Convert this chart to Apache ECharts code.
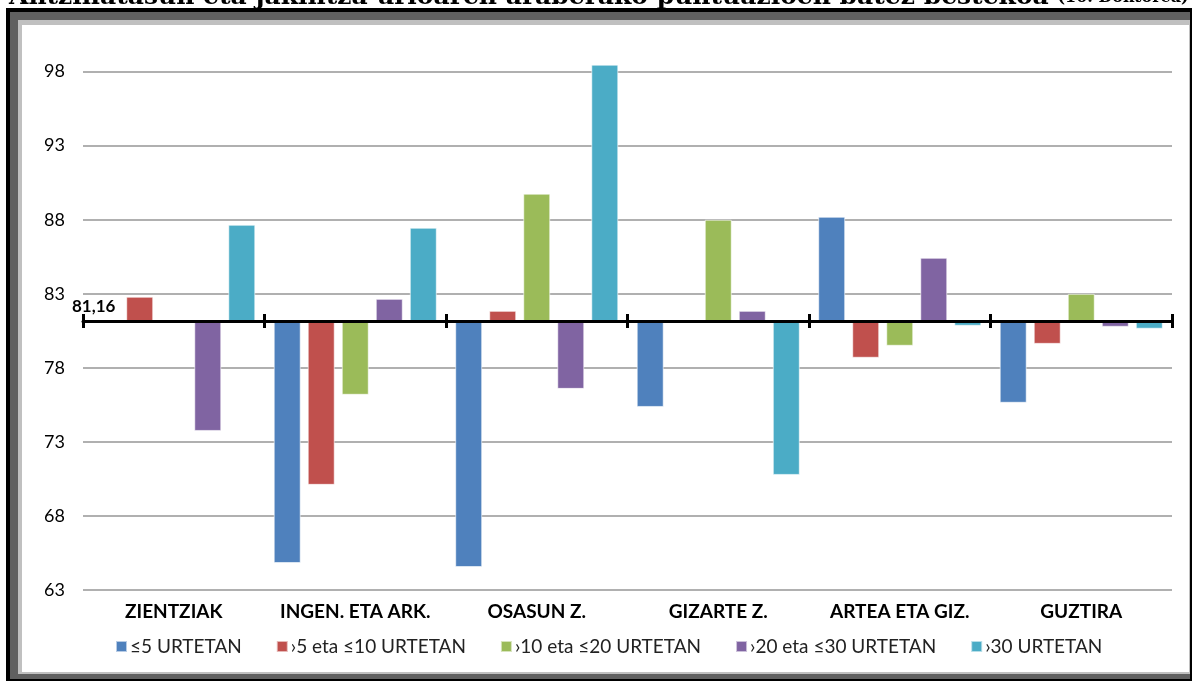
<!DOCTYPE html>
<html>
<head>
<meta charset="utf-8">
<script src="https://cdn.jsdelivr.net/npm/echarts@6/dist/echarts.min.js"></script>
<style>
  html, body { margin: 0; padding: 0; background: #fff; }
  #main { width: 1192px; height: 681px; }
</style>
</head>
<body>
<div id="main"></div>
<script>
// datuak
var kategoriak = ['ZIENTZIAK', 'INGEN. ETA ARK.', 'OSASUN Z.', 'GIZARTE Z.', 'ARTEA ETA GIZ.', 'GUZTIRA'];
var serieIzenak = ['≤5 URTETAN', '›5 eta ≤10 URTETAN', '›10 eta ≤20 URTETAN', '›20 eta ≤30 URTETAN', '›30 URTETAN'];
var urte5 = [81.12, 64.82, 64.55, 75.36, 88.2, 75.64];
var urte5_10 = [82.8, 70.1, 81.85, 81.25, 78.68, 79.62];
var urte10_20 = [81.2, 76.18, 89.76, 88.0, 79.49, 83.0];
var urte20_30 = [73.74, 82.66, 76.58, 81.85, 85.43, 80.77];
var urte30 = [87.66, 87.46, 98.47, 70.77, 80.84, 80.64];
var batezBestekoa = 81.16;
var yMin = 63, yMax = 100, yTartea = 5;

var koloreak = ['#4f81bd', '#c0504d', '#9bbb59', '#8064a2', '#4bacc6'];
var balioak = [urte5, urte5_10, urte10_20, urte20_30, urte30];

var myChart = echarts.init(document.getElementById('main'));

var series = [];
for (var i = 0; i < balioak.length; i++) {
    var s = {
        name: serieIzenak[i],
        type: 'bar',
        xAxisIndex: 0,
        yAxisIndex: 1,
        barWidth: 27,
        barGap: '26%',
        itemStyle: { color: koloreak[i], borderColor: 'rgba(255,255,255,0.6)', borderWidth: 1 },
        // barrak batez bestekotik abiatzen dira
        data: balioak[i].map(function (v) { return +(v - batezBestekoa).toFixed(3); })
    };
    if (i == 0) {
        s.markLine = {
            silent: true,
            symbol: 'none',
            lineStyle: { color: 'rgba(0,0,0,0)', width: 1 },
            label: {
                show: true,
                position: 'insideStartTop',
                formatter: String(batezBestekoa).replace('.', ','),
                color: '#000',
                fontWeight: 'bold',
                fontSize: 17,
                fontFamily: 'Lato',
                distance: [-11, 6]
            },
            data: [{ yAxis: 0 }]
        };
    }
    series.push(s);
}

option = {
    animation: false,
    title: {
        text: 'Antzinatasun eta jakintza-arloaren araberako puntuazioen batez bestekoa {s|(10. Doktorea)}',
        left: 4,
        top: -20,
        textStyle: {
            fontFamily: 'DejaVu Serif',
            fontWeight: 'bold',
            fontSize: 25,
            color: '#000',
            rich: { s: { fontFamily: 'DejaVu Serif', fontWeight: 'bold', fontSize: 16, color: '#000' } }
        }
    },
    graphic: [
        { type: 'rect', z: -10, shape: { x: 6, y: 8, width: 1190, height: 680 }, style: { fill: '#000' } },
        { type: 'rect', z: -9, shape: { x: 10, y: 12, width: 1180, height: 667 }, style: { fill: '#606060' } },
        { type: 'rect', z: -8, shape: { x: 18, y: 20, width: 1172, height: 654 }, style: { fill: '#c0c0c0' } },
        { type: 'rect', z: -7, shape: { x: 22, y: 25, width: 1167, height: 647 }, style: { fill: '#fff' } }
    ],
    legend: {
        data: serieIzenak,
        bottom: 20,
        left: 110,
        itemWidth: 11,
        itemHeight: 11,
        itemGap: 34,
        icon: 'rect',
        textStyle: { fontFamily: 'Lato', fontSize: 19, color: '#222', padding: [0, 0, 0, -2] }
    },
    grid: { left: 83, right: 20, top: 42, bottom: 91, containLabel: false },
    xAxis: [
        {   // ardatz beltza, tick-ak behera
            type: 'category',
            data: kategoriak,
            z: 10,
            axisLine: { onZero: true, onZeroAxisIndex: 1, lineStyle: { color: '#000', width: 3 } },
            axisTick: { show: true, length: 7, lineStyle: { color: '#000', width: 3 } },
            axisLabel: { show: false }
        },
        {   // tick-ak gora
            type: 'category',
            data: kategoriak,
            position: 'bottom',
            z: 10,
            axisLine: { onZero: true, onZeroAxisIndex: 1, show: false },
            axisTick: { show: true, inside: true, length: 7, lineStyle: { color: '#000', width: 3 } },
            axisLabel: { show: false }
        },
        {   // etiketak behean
            type: 'category',
            data: kategoriak,
            position: 'bottom',
            axisLine: { show: false, onZero: false },
            axisTick: { show: false },
            axisLabel: { interval: 0, margin: 12, color: '#000', fontWeight: 'bold', fontSize: 19, fontFamily: 'Lato' }
        }
    ],
    yAxis: [
        {
            type: 'value',
            min: yMin,
            max: yMax,
            interval: yTartea,
            axisLine: { show: false },
            axisTick: { show: false },
            axisLabel: { showMaxLabel: false, margin: 18, color: '#000', fontSize: 18, fontFamily: 'Lato' },
            splitLine: { showMaxLine: false, lineStyle: { color: '#b0b0b0', width: 2 } }
        },
        {
            type: 'value',
            show: false,
            min: yMin - batezBestekoa,
            max: yMax - batezBestekoa,
            splitLine: { show: false }
        }
    ],
    series: series
};
myChart.setOption(option);
</script>
</body>
</html>
